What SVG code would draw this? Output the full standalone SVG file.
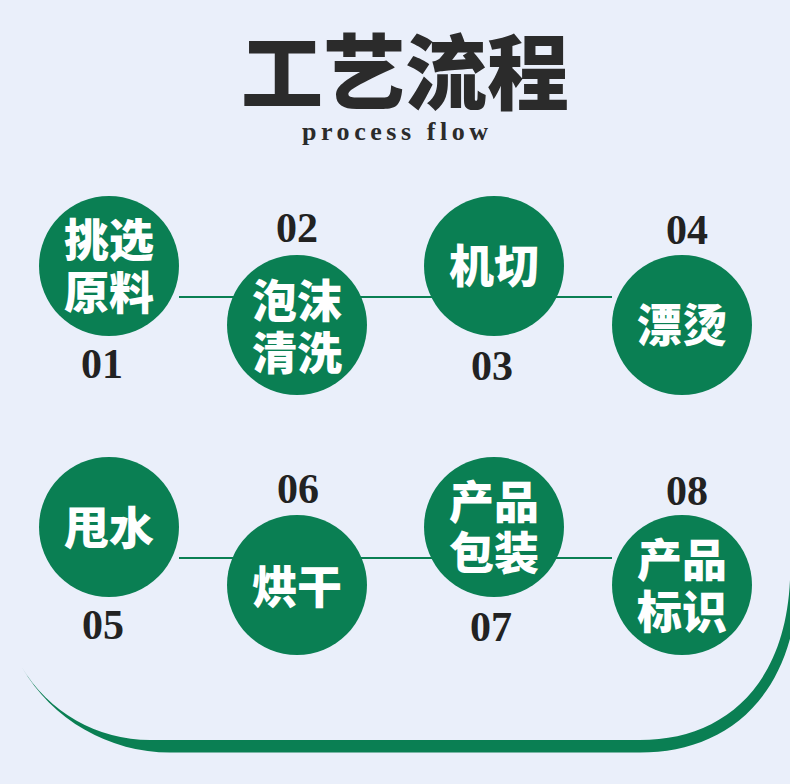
<svg xmlns="http://www.w3.org/2000/svg" width="790" height="784" viewBox="0 0 790 784">
  <style>
    .node circle { fill: #0a7f53; }
    .node text { fill: #ffffff; font-family: "Noto Sans CJK SC", "Noto Sans", sans-serif; font-weight: 900; font-size: 45px; text-anchor: middle; }
    .num { fill: #222222; font-family: "Liberation Serif", "Times New Roman", serif; font-weight: bold; font-size: 42px; text-anchor: middle; }
    .conn line { stroke: #0a7f53; stroke-width: 2; }
  </style>
  <rect x="0" y="0" width="790" height="784" fill="#eaeffa"/>
  <path d="M 21.7 667 A 171.4 171.4 0 0 0 170 752.5 L 640 752.5 C 720 752.5 790 705 798 590 L 800 560 L 791 560 L 790 580 C 785 690 720 740 640 740 L 150 740 A 149 149 0 0 1 21.7 667 Z" fill="#0a7f53"/>
  <g id="title">
    <text x="405" y="103" fill="#2b2b2b" font-family="'Noto Sans CJK SC', 'Noto Sans', sans-serif" font-weight="900" font-size="82" text-anchor="middle">工艺流程</text>
    <text x="302" y="140" fill="#2b2b2b" font-family="'Liberation Serif', 'Times New Roman', serif" font-weight="bold" font-size="26" textLength="186" lengthAdjust="spacing">process flow</text>
  </g>
  <g id="connectors" class="conn">
    <line x1="179" y1="297" x2="612" y2="297"/>
    <line x1="179" y1="558" x2="612" y2="558"/>
  </g>
  <g id="n01" class="node">
    <circle cx="109" cy="266" r="70"/>
    <text x="109" y="257">挑选</text>
    <text x="109" y="310">原料</text>
  </g>
  <g id="n02" class="node">
    <circle cx="297" cy="325" r="70"/>
    <text x="297" y="318">泡沫</text>
    <text x="297" y="370">清洗</text>
  </g>
  <g id="n03" class="node">
    <circle cx="494" cy="266" r="70"/>
    <text x="494" y="283">机切</text>
  </g>
  <g id="n04" class="node">
    <circle cx="682" cy="325" r="70"/>
    <text x="682" y="342">漂烫</text>
  </g>
  <g id="n05" class="node">
    <circle cx="109" cy="527" r="70"/>
    <text x="109" y="545">甩水</text>
  </g>
  <g id="n06" class="node">
    <circle cx="297" cy="585" r="70"/>
    <text x="297" y="604">烘干</text>
  </g>
  <g id="n07" class="node">
    <circle cx="494" cy="527" r="70"/>
    <text x="494" y="519">产品</text>
    <text x="494" y="570">包装</text>
  </g>
  <g id="n08" class="node">
    <circle cx="682" cy="585" r="70"/>
    <text x="682" y="577">产品</text>
    <text x="682" y="629">标识</text>
  </g>
  <g id="labels">
    <text class="num" x="102" y="378">01</text>
    <text class="num" x="297" y="242">02</text>
    <text class="num" x="492" y="380">03</text>
    <text class="num" x="687" y="244">04</text>
    <text class="num" x="103" y="639">05</text>
    <text class="num" x="298" y="503">06</text>
    <text class="num" x="491" y="641">07</text>
    <text class="num" x="687" y="505">08</text>
  </g>
</svg>
